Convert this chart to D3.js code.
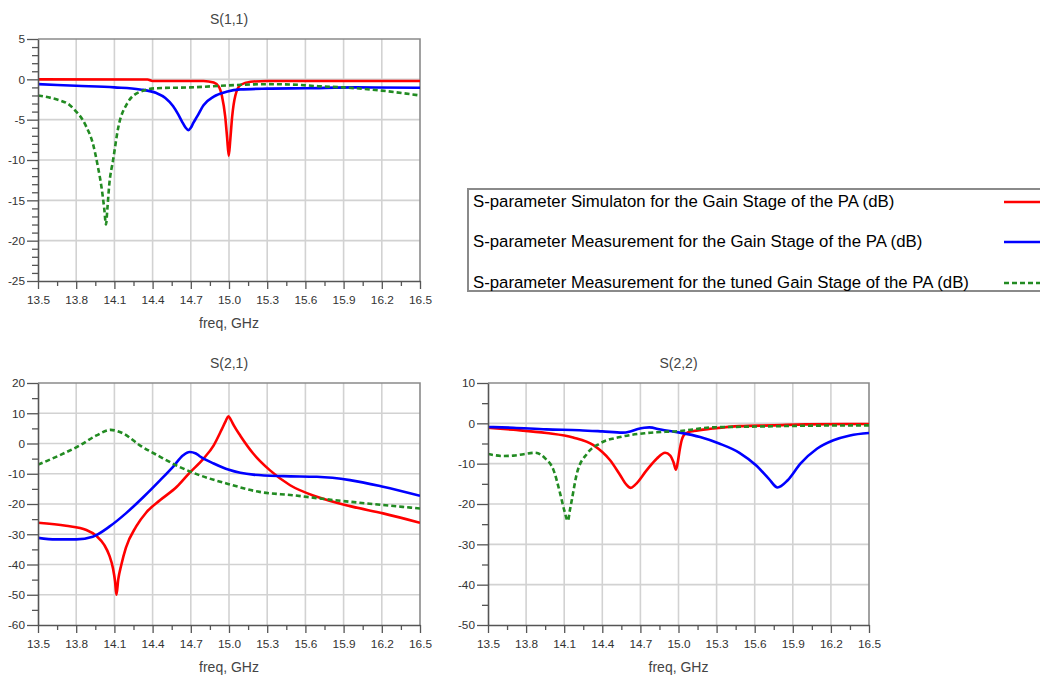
<!DOCTYPE html>
<html>
<head>
<meta charset="utf-8">
<script src="https://cdn.jsdelivr.net/npm/d3@7"></script>
<style>
  body { margin: 0; background: #fff; }
  svg { display: block; font-family: Arial, "Liberation Sans", sans-serif; }
</style>
</head>
<body>
<svg id="chart" width="1040" height="677"></svg>
<script>
// Frequency axis (GHz)
const freqTicks = [13.5, 13.8, 14.1, 14.4, 14.7, 15.0, 15.3, 15.6, 15.9, 16.2, 16.5];

// Legend entries
const seriesNames = [
  "S-parameter Simulaton for the Gain Stage of the PA (dB)",
  "S-parameter Measurement for the Gain Stage of the PA (dB)",
  "S-parameter Measurement for the tuned Gain Stage of the PA (dB)"
];

// ---- S(1,1) ----
const s11SimFreq = [13.5, 14.36, 14.4, 14.8, 14.88, 14.92, 14.945, 14.97, 14.985, 14.998, 15.01, 15.025, 15.05, 15.09, 15.17, 15.3, 16.5];
const s11SimDb   = [0.0, -0.02, -0.2, -0.2, -0.4, -0.9, -2.1, -4.6, -7.2, -9.5, -7.5, -4.6, -2.0, -0.7, -0.3, -0.2, -0.2];
const s11MeasFreq = [13.5, 13.8, 14.1, 14.3, 14.43, 14.5, 14.56, 14.6, 14.63, 14.66, 14.68, 14.7, 14.72, 14.75, 14.8, 14.88, 14.98, 15.09, 15.3, 15.6, 16.0, 16.5];
const s11MeasDb   = [-0.6, -0.8, -1.0, -1.25, -1.7, -2.3, -3.3, -4.3, -5.2, -6.0, -6.3, -6.0, -5.4, -4.6, -3.2, -2.15, -1.55, -1.25, -1.15, -1.1, -1.0, -1.05];
const s11TunedFreq = [13.5, 13.6, 13.67, 13.75, 13.8, 13.85, 13.88, 13.93, 13.97, 14.0, 14.02, 14.034, 14.045, 14.06, 14.09, 14.13, 14.2, 14.3, 14.43, 14.7, 15.0, 15.3, 15.5, 15.7, 15.9, 16.2, 16.5];
const s11TunedDb   = [-2.0, -2.3, -2.6, -3.2, -4.0, -5.0, -5.9, -7.9, -10.8, -13.5, -16.0, -18.0, -16.0, -13.0, -10.0, -6.0, -3.0, -1.55, -1.1, -1.0, -0.75, -0.6, -0.65, -0.85, -1.0, -1.4, -2.0];

// ---- S(2,1) ----
const s21SimFreq = [13.5, 13.72, 13.88, 13.96, 14.02, 14.06, 14.09, 14.105, 14.116, 14.13, 14.155, 14.19, 14.27, 14.35, 14.46, 14.59, 14.69, 14.8, 14.88, 14.94, 14.975, 14.995, 15.015, 15.04, 15.09, 15.19, 15.32, 15.48, 15.69, 15.95, 16.21, 16.5];
const s21SimDb   = [-26.2, -27.2, -28.6, -30.6, -33.5, -37.0, -41.5, -45.5, -50.0, -45.0, -40.0, -34.5, -27.5, -22.8, -18.7, -14.3, -9.7, -5.0, -0.6, 4.4, 7.5, 9.0, 7.8, 5.8, 2.5, -3.3, -8.8, -13.8, -17.6, -20.7, -23.1, -26.2];
const s21MeasFreq = [13.5, 13.64, 13.8, 13.93, 14.06, 14.19, 14.33, 14.46, 14.56, 14.64, 14.69, 14.74, 14.77, 14.88, 15.0, 15.19, 15.43, 15.69, 15.95, 16.21, 16.5];
const s21MeasDb   = [-31.2, -31.7, -31.7, -30.8, -27.5, -23.1, -17.6, -12.1, -7.7, -3.9, -2.8, -3.3, -4.2, -6.6, -8.7, -10.3, -10.8, -11.0, -12.1, -14.3, -17.3];
const s21TunedFreq = [13.5, 13.67, 13.83, 13.96, 14.07, 14.17, 14.3, 14.46, 14.61, 14.77, 14.98, 15.24, 15.5, 15.82, 16.08, 16.5];
const s21TunedDb   = [-7.0, -3.9, -0.6, 2.7, 4.5, 3.3, -0.6, -4.4, -7.7, -10.5, -13.2, -16.0, -17.1, -18.7, -19.8, -21.5];

// ---- S(2,2) ----
const s22SimFreq = [13.5, 13.7, 13.96, 14.17, 14.33, 14.46, 14.54, 14.59, 14.624, 14.66, 14.75, 14.83, 14.894, 14.935, 14.96, 14.98, 14.995, 15.01, 15.025, 15.04, 15.07, 15.12, 15.27, 15.48, 15.75, 16.0, 16.5];
const s22SimDb   = [-1.1, -1.6, -2.4, -3.5, -5.4, -9.1, -12.8, -15.2, -16.0, -15.2, -11.6, -8.7, -7.3, -8.0, -9.6, -11.5, -9.5, -6.5, -4.2, -3.0, -2.3, -1.9, -1.3, -0.7, -0.5, -0.25, -0.15];
const s22MeasFreq = [13.5, 13.7, 13.96, 14.22, 14.4, 14.56, 14.62, 14.68, 14.73, 14.77, 14.86, 15.01, 15.17, 15.32, 15.48, 15.61, 15.71, 15.78, 15.86, 15.96, 16.09, 16.22, 16.35, 16.5];
const s22MeasDb   = [-0.9, -1.1, -1.5, -1.7, -2.0, -2.3, -2.0, -1.4, -1.1, -1.0, -1.55, -2.3, -3.4, -5.0, -7.3, -10.4, -13.7, -15.9, -14.1, -10.0, -6.3, -4.2, -3.0, -2.4];
const s22TunedFreq = [13.5, 13.62, 13.7, 13.78, 13.87, 13.95, 14.016, 14.068, 14.1, 14.129, 14.145, 14.16, 14.2, 14.28, 14.38, 14.54, 14.75, 15.01, 15.27, 15.61, 16.0, 16.5];
const s22TunedDb   = [-7.6, -8.1, -8.0, -7.65, -7.3, -8.7, -11.6, -17.4, -21.5, -24.2, -21.5, -19.0, -12.4, -7.5, -5.0, -3.4, -2.4, -1.9, -1.0, -0.8, -0.6, -0.5];

// Line styles for the three traces
const styles = [
  { color: "#ff0000", dash: null },
  { color: "#0000ff", dash: null },
  { color: "#228b22", dash: "5,3" }
];

const svg = d3.select("#chart");
const fmt = d => String(d);

function zip(fs, vs) { return fs.map((f, i) => ({ f, v: vs[i] })); }

function panel(opt) {
  const { id, title, left, right, top, bottom, yMin, yMax, yStep, yMinorDiv, traces } = opt;
  const x = d3.scaleLinear().domain([13.5, 16.5]).range([left, right]);
  const y = d3.scaleLinear().domain([yMin, yMax]).range([bottom, top]);
  const yMajor = d3.range(yMin, yMax + 0.001, yStep);
  const yMinor = d3.range(yMin, yMax + 0.001, yStep / yMinorDiv)
    .filter(v => Math.abs(v / yStep - Math.round(v / yStep)) > 1e-6);
  const xMinor = freqTicks.slice(0, -1).map(f => +(f + 0.15).toFixed(2));

  const g = svg.append("g");

  // grid
  g.append("g").selectAll("line").data(freqTicks.slice(1, -1)).join("line")
    .attr("x1", d => x(d)).attr("x2", d => x(d)).attr("y1", top).attr("y2", bottom)
    .attr("stroke", "#d2d2d2").attr("stroke-width", 1.6);
  g.append("g").selectAll("line").data(yMajor.slice(1, -1)).join("line")
    .attr("x1", left).attr("x2", right).attr("y1", d => y(d)).attr("y2", d => y(d))
    .attr("stroke", "#d2d2d2").attr("stroke-width", 1.6);

  // top and right frame
  g.append("path")
    .attr("d", `M${left},${top}H${right}V${bottom}`)
    .attr("fill", "none").attr("stroke", "#8a8a8a").attr("stroke-width", 1.6);

  // traces
  g.append("clipPath").attr("id", id).append("rect")
    .attr("x", left).attr("y", top - 2).attr("width", right - left).attr("height", bottom - top + 4);
  const line = d3.line().x(d => x(d.f)).y(d => y(d.v)).curve(d3.curveMonotoneX);
  const tg = g.append("g").attr("clip-path", `url(#${id})`);
  traces.forEach((t, i) => {
    tg.append("path").datum(zip(t[0], t[1]))
      .attr("d", line).attr("fill", "none")
      .attr("stroke", styles[i].color).attr("stroke-width", 2.6)
      .attr("stroke-dasharray", styles[i].dash)
      .attr("stroke-linejoin", "round");
  });

  // minor ticks
  g.append("g").attr("transform", `translate(${left},0)`)
    .call(d3.axisLeft(y).tickValues(yMinor).tickSize(6).tickFormat(""))
    .call(s => s.select(".domain").remove())
    .selectAll("line").attr("stroke", "#555").attr("stroke-width", 1.3);
  g.append("g").attr("transform", `translate(0,${bottom})`)
    .call(d3.axisBottom(x).tickValues(xMinor).tickSize(5).tickFormat(""))
    .call(s => s.select(".domain").remove())
    .selectAll("line").attr("stroke", "#555").attr("stroke-width", 1.3);

  // major axes
  const ya = g.append("g").attr("transform", `translate(${left},0)`)
    .call(d3.axisLeft(y).tickValues(yMajor).tickSize(11).tickSizeOuter(0).tickPadding(2).tickFormat(fmt));
  const xa = g.append("g").attr("transform", `translate(0,${bottom})`)
    .call(d3.axisBottom(x).tickValues(freqTicks).tickSize(8).tickSizeOuter(0).tickPadding(7).tickFormat(d3.format(".1f")));
  [ya, xa].forEach(a => {
    a.select(".domain").attr("stroke", "#555").attr("stroke-width", 1.6);
    a.selectAll(".tick line").attr("stroke", "#555").attr("stroke-width", 1.3);
    a.selectAll(".tick text").attr("fill", "#333").style("font-size", "11.8px")
      .style("font-family", "Arial, 'Liberation Sans', sans-serif");
  });

  // titles
  g.append("text").attr("x", (left + right) / 2).attr("y", top - 15)
    .attr("text-anchor", "middle").attr("fill", "#444").style("font-size", "14px").text(title);
  g.append("text").attr("x", (left + right) / 2).attr("y", bottom + 47)
    .attr("text-anchor", "middle").attr("fill", "#444").style("font-size", "14px").text("freq, GHz");
}

panel({ id: "c11", title: "S(1,1)", left: 38, right: 420, top: 39, bottom: 281,
  yMin: -25, yMax: 5, yStep: 5, yMinorDiv: 5,
  traces: [[s11SimFreq, s11SimDb], [s11MeasFreq, s11MeasDb], [s11TunedFreq, s11TunedDb]] });

panel({ id: "c21", title: "S(2,1)", left: 38, right: 420, top: 383, bottom: 625,
  yMin: -60, yMax: 20, yStep: 10, yMinorDiv: 2,
  traces: [[s21SimFreq, s21SimDb], [s21MeasFreq, s21MeasDb], [s21TunedFreq, s21TunedDb]] });

panel({ id: "c22", title: "S(2,2)", left: 488, right: 869, top: 383, bottom: 625,
  yMin: -50, yMax: 10, yStep: 10, yMinorDiv: 2,
  traces: [[s22SimFreq, s22SimDb], [s22MeasFreq, s22MeasDb], [s22TunedFreq, s22TunedDb]] });

// legend
const lg = svg.append("g");
lg.append("rect").attr("x", 468).attr("y", 189).attr("width", 600).attr("height", 102)
  .attr("fill", "#fff").attr("stroke", "#8a8a8a").attr("stroke-width", 2);
const rowY = [201, 241, 282];
seriesNames.forEach((name, i) => {
  lg.append("text").attr("x", 473).attr("y", rowY[i] + 6)
    .attr("fill", "#000").style("font-size", "16.8px").text(name);
  lg.append("line").attr("x1", 1004).attr("x2", 1045).attr("y1", rowY[i] + 1).attr("y2", rowY[i] + 1)
    .attr("stroke", styles[i].color).attr("stroke-width", 2.6)
    .attr("stroke-dasharray", styles[i].dash);
});
</script>
</body>
</html>
